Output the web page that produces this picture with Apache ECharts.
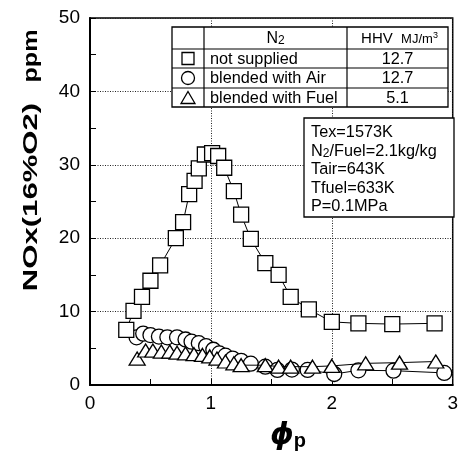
<!DOCTYPE html>
<html><head><meta charset="utf-8">
<script src="https://cdn.jsdelivr.net/npm/echarts@6/dist/echarts.min.js"></script>
<style>html,body{margin:0;padding:0;background:#fff}#c{width:461px;height:454px}</style>
</head><body><div id="c"></div>
<script>
// phi_p values and NOx values
const sqX = [0.30,0.36,0.43,0.50,0.58,0.71,0.77,0.82,0.865,0.90,0.95,1.01,1.06,1.11,1.19,1.25,1.33,1.45,1.56,1.66,1.81,2.00,2.22,2.50,2.85];
const sqY = [7.5,10.1,12.0,14.2,16.3,20.0,22.2,26.0,27.8,29.5,31.4,31.6,31.2,29.6,26.4,23.2,19.9,16.6,15.0,12.0,10.3,8.6,8.4,8.3,8.4];
const ciX = [0.385,0.44,0.50,0.57,0.64,0.72,0.79,0.84,0.90,0.96,1.02,1.07,1.12,1.18,1.25,1.33,1.45,1.55,1.67,1.80,2.02,2.22,2.51,2.93];
const ciY = [6.5,7.0,6.8,6.6,6.5,6.5,6.2,5.9,5.7,5.3,4.8,4.3,4.0,3.6,3.3,2.9,2.5,2.05,2.1,2.05,1.5,2.0,1.95,1.65];
const trX = [0.39,0.46,0.52,0.59,0.66,0.72,0.79,0.86,0.93,0.99,1.05,1.12,1.19,1.25,1.45,1.56,1.66,1.84,2.0,2.28,2.56,2.86];
const trY = [3.6,4.7,4.7,4.55,4.55,4.4,4.3,4.2,4.1,3.9,3.6,3.2,2.95,2.7,2.7,2.5,2.5,2.5,2.6,2.95,3.05,3.2];
const legendRows = ['not supplied','blended with Air','blended with Fuel'];
const hhvValues = ['12.7','12.7','5.1'];
const xTicks = [0,1,2,3];
const yTicks = [0,10,20,30,40,50];

const FONT = '"Liberation Sans", Arial, sans-serif';
const zip = (a,b)=>a.map((v,i)=>[v,b[i]]);
const chart = echarts.init(document.getElementById('c'));
function ser(name, sym, size, xs, ys, z){
  return {name, type:'line', data:zip(xs,ys), symbol:sym, symbolSize:size, showSymbol:true,
    lineStyle:{color:'#000', width:1}, itemStyle:{color:'#fff', borderColor:'#000', borderWidth:1.3},
    z:z, animation:false};
}
const g = [];
// legend table
const L=172,T=27,R=448,B=107, c1=204, c2=347, h0=49, h1=68, h2=88;
g.push({type:'rect', shape:{x:L,y:T,width:R-L,height:B-T}, style:{fill:'#fff',stroke:'#000',lineWidth:1.3}, z:100});
[[L,h0,R,h0],[L,h1,R,h1],[L,h2,R,h2],[c1,T,c1,B],[c2,T,c2,B]].forEach(s=>g.push({type:'line',shape:{x1:s[0],y1:s[1],x2:s[2],y2:s[3]},style:{stroke:'#000',lineWidth:1.2},z:101}));
g.push({type:'text', x:(c1+c2)/2, y:(T+h0)/2+1, style:{text:'{a|N}{b|2}', rich:{a:{fontSize:16,fontFamily:FONT,fill:'#000'},b:{fontSize:12,fontFamily:FONT,fill:'#000',padding:[4,0,0,0]}}, align:'center', verticalAlign:'middle'}, z:102});
g.push({type:'text', x:(c2+R)/2+2, y:(T+h0)/2+1, style:{text:'{a|HHV  }{b|MJ/m}{c|3}', rich:{a:{fontSize:15,fontFamily:FONT,fill:'#000'},b:{fontSize:13,fontFamily:FONT,fill:'#000'},c:{fontSize:9,fontFamily:FONT,fill:'#000',padding:[0,0,7,0]}}, align:'center', verticalAlign:'middle'}, z:102});
const rowsY=[h0,h1,h2,B];
legendRows.forEach((t,i)=>{
  const cy=(rowsY[i]+rowsY[i+1])/2;
  g.push({type:'text', x:c1+6, y:cy+1, style:{text:t, fontSize:16.3, fontFamily:FONT, fill:'#000', align:'left', verticalAlign:'middle'}, z:102});
  g.push({type:'text', x:(c2+R)/2, y:cy+1, style:{text:hhvValues[i], fontSize:16.3, fontFamily:FONT, fill:'#000', align:'center', verticalAlign:'middle'}, z:102});
  const cx=(L+c1)/2;
  if(i===0) g.push({type:'rect', shape:{x:cx-6,y:cy-6,width:12,height:12}, style:{fill:'#fff',stroke:'#000',lineWidth:1.3}, z:102});
  if(i===1) g.push({type:'circle', shape:{cx:cx,cy:cy,r:6.5}, style:{fill:'#fff',stroke:'#000',lineWidth:1.3}, z:102});
  if(i===2) g.push({type:'polygon', shape:{points:[[cx,cy-6],[cx+7,cy+6],[cx-7,cy+6]]}, style:{fill:'#fff',stroke:'#000',lineWidth:1.3}, z:102});
});
// parameter box
g.push({type:'rect', shape:{x:304,y:118,width:150,height:99}, style:{fill:'#fff',stroke:'#000',lineWidth:1.3}, z:100});
const params=[['Tex=1573K'],['N','2','/Fuel=2.1kg/kg'],['Tair=643K'],['Tfuel=633K'],['P=0.1MPa']];
params.forEach((p,i)=>{
  let txt = p.length===1 ? '{a|'+p[0]+'}' : '{a|'+p[0]+'}{b|'+p[1]+'}{a|'+p[2]+'}';
  g.push({type:'text', x:311, y:133+i*18.5, style:{text:txt, rich:{a:{fontSize:16.3,fontFamily:FONT,fill:'#000'},b:{fontSize:12,fontFamily:FONT,fill:'#000',padding:[4,0,0,0]}}, align:'left', verticalAlign:'middle'}, z:102});
});
// axis titles
g.push({type:'text', x:31, y:197, rotation:Math.PI/2, scaleX:1.48, style:{text:'NOx(16%O2)', fontSize:21, fontWeight:'bold', fontFamily:FONT, fill:'#000', align:'center', verticalAlign:'middle'}, z:102});
g.push({type:'text', x:31, y:56, rotation:Math.PI/2, scaleX:1.2, style:{text:'ppm', fontSize:21, fontWeight:'bold', fontFamily:FONT, fill:'#000', align:'center', verticalAlign:'middle'}, z:102});
g.push({type:'text', x:288, y:436, style:{text:'{a|ϕ}{b|p}', rich:{a:{fontSize:30,fontStyle:'italic',fontWeight:'bold',fontFamily:'"DejaVu Sans", sans-serif',fill:'#000'},b:{fontSize:20,fontWeight:'bold',fontFamily:FONT,fill:'#000',padding:[10,0,0,0]}}, align:'center', verticalAlign:'middle'}, z:102});

const option = {
  animation:false,
  backgroundColor:'#fff',
  grid:{left:90, right:7, top:18, bottom:69, show:true, borderColor:'#000', borderWidth:1.5, backgroundColor:'transparent'},
  xAxis:{type:'value', min:xTicks[0], max:xTicks[xTicks.length-1], interval:1,
    axisLine:{show:true, onZero:false, lineStyle:{color:'#000', width:2}},
    axisTick:{show:true, inside:true, length:6, lineStyle:{color:'#000'}},
    minorTick:{show:true, splitNumber:2, length:6, lineStyle:{color:'#000'}},
    splitLine:{show:true, lineStyle:{color:'#222', width:1, type:[1,1.5]}},
    axisLabel:{fontSize:19, color:'#000', fontFamily:FONT, margin:9}},
  yAxis:{type:'value', min:yTicks[0], max:yTicks[yTicks.length-1], interval:10,
    axisLine:{show:true, onZero:false, lineStyle:{color:'#000', width:2}},
    axisTick:{show:true, inside:true, length:6, lineStyle:{color:'#000'}},
    minorTick:{show:true, splitNumber:2, length:6, lineStyle:{color:'#000'}},
    splitLine:{show:true, lineStyle:{color:'#222', width:1, type:[1,1.5]}},
    axisLabel:{fontSize:19, color:'#000', fontFamily:FONT, margin:10}},
  series:[
    ser('blended with Air','circle',15,ciX,ciY,2),
    ser('blended with Fuel','triangle',[16,13],trX,trY,3),
    ser('not supplied','rect',15,sqX,sqY,4)
  ],
  graphic:g
};
chart.setOption(option);
</script></body></html>
